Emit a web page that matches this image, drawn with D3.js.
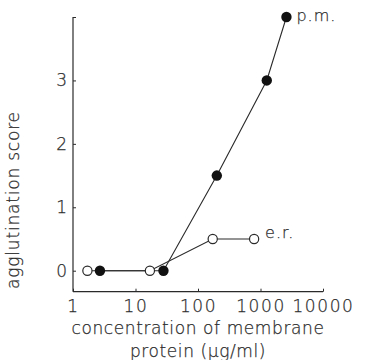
<!DOCTYPE html>
<html>
<head>
<meta charset="utf-8">
<script src="https://cdn.jsdelivr.net/npm/d3@7"></script>
<style>
  body { margin: 0; background: #fff; }
  text { font-family: "DejaVu Sans", sans-serif; font-weight: 200; fill: #2e2e2e;
         stroke: #2e2e2e; stroke-width: 0.25px; }
</style>
</head>
<body>
<div id="chart"></div>
<script>
// membrane protein concentration (µg/ml) vs agglutination score
const pmConc = [2.7, 28, 200, 1260, 2600];
const pmScore = [0, 0, 1.5, 3, 4];
const erConc = [1.7, 17, 172, 790];
const erScore = [0, 0, 0.5, 0.5];
const xTicks = [1, 10, 100, 1000, 10000];
const yTicks = [0, 1, 2, 3, 4];
const yTickLabels = ["0", "1", "2", "3", ""];

const width = 365, height = 360;
const ink = "#2a2a2a";

const svg = d3.select("#chart").append("svg")
  .attr("width", width)
  .attr("height", height);

const x = d3.scaleLog().domain([1, 10000]).range([73, 323]);
const y = d3.scaleLinear().domain([0, 4]).range([270.7, 17]);
const axisY = 291.7;

// X axis
const gx = svg.append("g")
  .attr("transform", `translate(0,${axisY})`)
  .call(d3.axisBottom(x).tickValues(xTicks).tickFormat(d3.format("d"))
    .tickSize(-3).tickSizeOuter(0).tickPadding(8));
gx.select(".domain").remove();
gx.selectAll("line").attr("stroke", ink);
gx.selectAll("text").style("font-size", "17px").style("letter-spacing", "1.6px")
  .attr("fill", "#2e2e2e");
gx.append("line").attr("x1", x(1)).attr("x2", x(10000))
  .attr("stroke", ink).attr("stroke-width", 1.2);

// Y axis
const gy = svg.append("g")
  .attr("transform", `translate(${x(1)},0)`)
  .call(d3.axisLeft(y).tickValues(yTicks).tickFormat((d, i) => yTickLabels[i])
    .tickSize(-3).tickSizeOuter(0).tickPadding(6));
gy.select(".domain").remove();
gy.selectAll("line").attr("stroke", ink);
gy.selectAll("text").style("font-size", "17px").attr("fill", "#2e2e2e");
gy.append("line").attr("y1", y(4)).attr("y2", axisY)
  .attr("stroke", ink).attr("stroke-width", 1.2);

// titles
svg.append("text")
  .attr("x", 198).attr("y", 334)
  .attr("text-anchor", "middle")
  .style("font-size", "17px").style("letter-spacing", "0.6px")
  .text("concentration of membrane");
svg.append("text")
  .attr("x", 198).attr("y", 357)
  .attr("text-anchor", "middle")
  .style("font-size", "17px").style("letter-spacing", "0.6px")
  .text("protein (µg/ml)");
svg.append("text")
  .attr("transform", "translate(19,200) rotate(-90)")
  .attr("text-anchor", "middle")
  .style("font-size", "17px").style("letter-spacing", "0.8px")
  .text("agglutination score");

const line = d3.line().x(d => x(d[0])).y(d => y(d[1]));
const pm = pmConc.map((c, i) => [c, pmScore[i]]);
const er = erConc.map((c, i) => [c, erScore[i]]);

svg.append("path").datum(er).attr("d", line)
  .attr("fill", "none").attr("stroke", ink).attr("stroke-width", 1.1);
svg.append("path").datum(pm).attr("d", line)
  .attr("fill", "none").attr("stroke", ink).attr("stroke-width", 1.1);

svg.selectAll("circle.er").data(er).join("circle")
  .attr("class", "er")
  .attr("cx", d => x(d[0])).attr("cy", d => y(d[1])).attr("r", 4.6)
  .attr("fill", "#fff").attr("stroke", ink).attr("stroke-width", 1.2);
svg.selectAll("circle.pm").data(pm).join("circle")
  .attr("class", "pm")
  .attr("cx", d => x(d[0])).attr("cy", d => y(d[1])).attr("r", 5.2)
  .attr("fill", "#111");

// series labels
svg.append("text")
  .attr("x", x(pmConc[4]) + 10).attr("y", y(pmScore[4]) + 4)
  .style("font-size", "16px").style("letter-spacing", "1px")
  .text("p.m.");
svg.append("text")
  .attr("x", x(erConc[3]) + 11).attr("y", y(erScore[3]) - 1)
  .style("font-size", "16px").style("letter-spacing", "1px")
  .text("e.r.");
</script>
</body>
</html>
